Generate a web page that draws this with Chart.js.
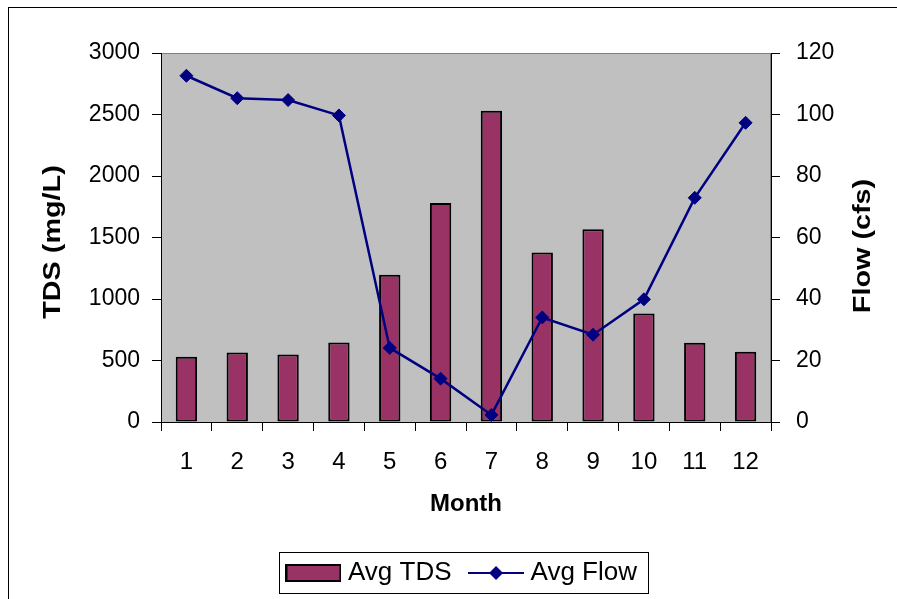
<!DOCTYPE html>
<html>
<head>
<meta charset="utf-8">
<title>Average TDS and Flow by Month</title>
<script src="https://cdn.jsdelivr.net/npm/chart.js@4/dist/chart.umd.min.js"></script>
<style>
  html, body { margin: 0; padding: 0; background: #ffffff; }
  canvas { display: block; }
</style>
</head>
<body>
<canvas id="chart" width="897" height="599"></canvas>
<script>
// Monthly averages
const months = ['1', '2', '3', '4', '5', '6', '7', '8', '9', '10', '11', '12'];
const avgTds = [530, 565, 549, 647, 1198, 1780, 2530, 1378, 1568, 883, 644, 571];
const avgFlow = [112.6, 105.3, 104.7, 99.7, 24.1, 14.1, 2.3, 34.0, 28.4, 39.9, 72.9, 97.3];

// Axis tick values
const tdsTicks = [0, 500, 1000, 1500, 2000, 2500, 3000];
const flowTicks = [0, 20, 40, 60, 80, 100, 120];

const FONT = "'Liberation Sans', Arial, sans-serif";
const BAR_COLOR = '#993366';
const LINE_COLOR = '#000080';

Chart.defaults.font.family = FONT;
Chart.defaults.color = '#000000';

// Legend swatches: a filled box for the bars, a line with a diamond for the flow series
function barSwatch() {
  const c = document.createElement('canvas');
  c.width = 56; c.height = 18;
  const g = c.getContext('2d');
  g.fillStyle = BAR_COLOR;
  g.fillRect(1, 1, 54, 16);
  g.strokeStyle = '#000000';
  g.lineWidth = 2;
  g.strokeRect(1, 1, 54, 16);
  return c;
}
function lineSwatch() {
  const c = document.createElement('canvas');
  c.width = 56; c.height = 16;
  const g = c.getContext('2d');
  g.strokeStyle = LINE_COLOR;
  g.lineWidth = 2;
  g.beginPath(); g.moveTo(0, 8); g.lineTo(56, 8); g.stroke();
  g.fillStyle = LINE_COLOR;
  g.beginPath();
  g.moveTo(28 - 7, 8); g.lineTo(28, 1); g.lineTo(28 + 7, 8); g.lineTo(28, 15);
  g.closePath(); g.fill();
  return c;
}

// Grey plot area, chart frame, legend frame and the two vertical axis titles
const decor = {
  id: 'decor',
  beforeDraw(chart) {
    const { ctx, chartArea: a } = chart;
    ctx.save();
    ctx.fillStyle = '#ffffff';
    ctx.fillRect(0, 0, chart.width, chart.height);
    ctx.fillStyle = '#c0c0c0';
    ctx.fillRect(a.left, a.top, a.right - a.left, a.bottom - a.top);
    ctx.strokeStyle = '#808080';
    ctx.lineWidth = 1;
    ctx.strokeRect(a.left + 0.5, a.top + 0.5, a.right - a.left - 1, a.bottom - a.top);
    // outer chart frame
    ctx.strokeStyle = '#000000';
    ctx.strokeRect(8.5, 7.5, 1000, 1000);
    ctx.restore();
  },
  afterDraw(chart) {
    const { ctx } = chart;
    ctx.save();
    // legend frame
    const boxes = chart.legend.legendHitBoxes;
    if (boxes && boxes.length) {
      const first = boxes[0], last = boxes[boxes.length - 1];
      const cy = first.top + first.height / 2;
      const l = Math.round(first.left - 13) + 0.5;
      const r = Math.round(last.left + last.width + 11) + 0.5;
      const t = Math.round(cy - 21) + 0.5;
      const b = Math.round(cy + 20) + 0.5;
      ctx.strokeStyle = '#000000';
      ctx.lineWidth = 1;
      ctx.strokeRect(l, t, r - l, b - t);
    }
    // vertical axis titles
    ctx.fillStyle = '#000000';
    ctx.font = 'bold 24px ' + FONT;
    ctx.textAlign = 'center';
    ctx.textBaseline = 'middle';
    const titles = [
      { text: 'TDS (mg/L)', x: 53, y: 242 },
      { text: 'Flow (cfs)', x: 863, y: 246 }
    ];
    titles.forEach(t => {
      ctx.save();
      ctx.translate(t.x, t.y);
      ctx.rotate(-Math.PI / 2);
      ctx.scale(1.2, 1);
      ctx.fillText(t.text, 0, 0);
      ctx.restore();
    });
    ctx.restore();
  }
};

const plainNumber = v => String(v);

new Chart(document.getElementById('chart'), {
  data: {
    labels: months,
    datasets: [
      {
        type: 'bar',
        label: 'Avg TDS',
        data: avgTds,
        yAxisID: 'y',
        backgroundColor: BAR_COLOR,
        borderColor: '#000000',
        borderWidth: 2,
        borderSkipped: false,
        barPercentage: 0.42,
        categoryPercentage: 1.0,
        order: 2
      },
      {
        type: 'line',
        label: 'Avg Flow',
        data: avgFlow,
        yAxisID: 'y1',
        borderColor: LINE_COLOR,
        backgroundColor: LINE_COLOR,
        borderWidth: 2.5,
        tension: 0,
        pointStyle: 'rectRot',
        pointRadius: 6.5,
        pointBorderWidth: 1,
        pointBackgroundColor: LINE_COLOR,
        pointBorderColor: LINE_COLOR,
        order: 1
      }
    ]
  },
  options: {
    responsive: false,
    animation: false,
    devicePixelRatio: 1,
    layout: { padding: { left: 32, right: 0, top: 53, bottom: 3 } },
    plugins: {
      tooltip: { enabled: false },
      legend: {
        position: 'bottom',
        labels: {
          font: { size: 26 },
          color: '#000000',
          usePointStyle: true,
          pointStyleWidth: 43,
          boxHeight: 16,
          padding: 23,
          generateLabels(chart) {
            return chart.data.datasets.map((ds, i) => ({
              text: ds.label,
              datasetIndex: i,
              pointStyle: i === 0 ? barSwatch() : lineSwatch(),
              fillStyle: ds.backgroundColor,
              strokeStyle: ds.borderColor,
              lineWidth: 0,
              hidden: false
            }));
          }
        }
      }
    },
    scales: {
      x: {
        type: 'category',
        offset: true,
        grid: {
          offset: true,
          drawOnChartArea: false,
          drawTicks: true,
          tickLength: 9,
          color: '#000000'
        },
        border: { color: '#000000', width: 1 },
        ticks: { font: { size: 24 }, padding: 17, maxRotation: 0 },
        title: {
          display: true,
          text: 'Month',
          font: { size: 24, weight: 'bold' },
          padding: { top: 0, bottom: 18 }
        },
        afterFit(scale) { scale.height = 115; }
      },
      y: {
        type: 'linear',
        position: 'left',
        min: tdsTicks[0],
        max: tdsTicks[tdsTicks.length - 1],
        afterBuildTicks(scale) { scale.ticks = tdsTicks.map(v => ({ value: v })); },
        grid: { drawOnChartArea: false, tickLength: 9, color: '#000000' },
        border: { color: '#000000', width: 1 },
        ticks: { font: { size: 23 }, padding: 12, callback: plainNumber },
        afterFit(scale) { scale.width = 129; }
      },
      y1: {
        type: 'linear',
        position: 'right',
        min: flowTicks[0],
        max: flowTicks[flowTicks.length - 1],
        afterBuildTicks(scale) { scale.ticks = flowTicks.map(v => ({ value: v })); },
        grid: { drawOnChartArea: false, tickLength: 9, color: '#000000' },
        border: { color: '#000000', width: 1 },
        ticks: { font: { size: 23 }, padding: 16, callback: plainNumber },
        afterFit(scale) { scale.width = 126; }
      }
    }
  },
  plugins: [decor]
});
</script>
</body>
</html>
